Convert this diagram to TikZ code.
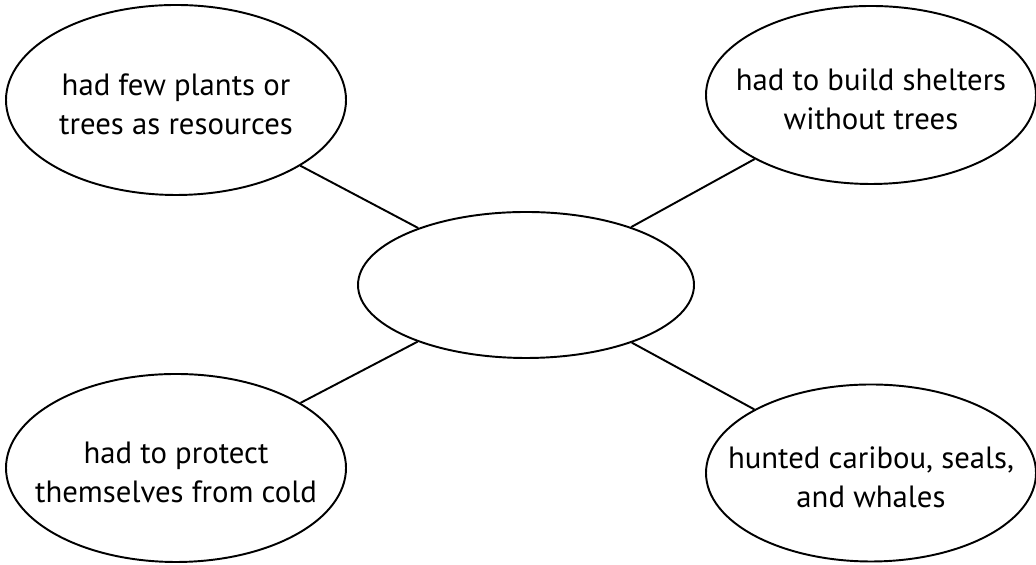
\documentclass[tikz,border=0pt]{standalone}
\usepackage{fontspec}
\setmainfont{PT Sans}
\usepackage{tikz}
\usetikzlibrary{shapes, positioning}

\begin{document}
\begin{tikzpicture}[
  idea/.style={draw, ellipse, line width=1.1pt, align=center, inner xsep=-0.8cm, inner ysep=0pt, font=\fontsize{17.5}{22.1}\selectfont},
  link/.style={line width=1.1pt}
]
  \useasboundingbox (0, 0) rectangle (20.72, 11.3);
  \node[idea, minimum width=6.72cm, minimum height=2.92cm] (hub) at (10.52, 5.60) {};
  \node[idea, minimum width=6.8cm, minimum height=3.8cm] (plants) at (3.52, 9.30) {\rule{0pt}{0.62cm}had few plants or\\trees as resources};
  \node[idea, minimum width=6.6cm, minimum height=3.56cm] (shelter) at (17.42, 9.40) {\rule{0pt}{0.62cm}had to build shelters\\without trees};
  \node[idea, minimum width=6.8cm, minimum height=3.76cm] (cold) at (3.52, 1.94) {\rule{0pt}{0.62cm}had to protect\\themselves from cold};
  \node[idea, minimum width=6.6cm, minimum height=3.54cm] (hunt) at (17.42, 1.84) {\rule{0pt}{0.62cm}hunted caribou, seals,\\and whales};
  \draw[link] (plants) -- (hub);
  \draw[link] (shelter) -- (hub);
  \draw[link] (cold) -- (hub);
  \draw[link] (hunt) -- (hub);
\end{tikzpicture}
\end{document}
